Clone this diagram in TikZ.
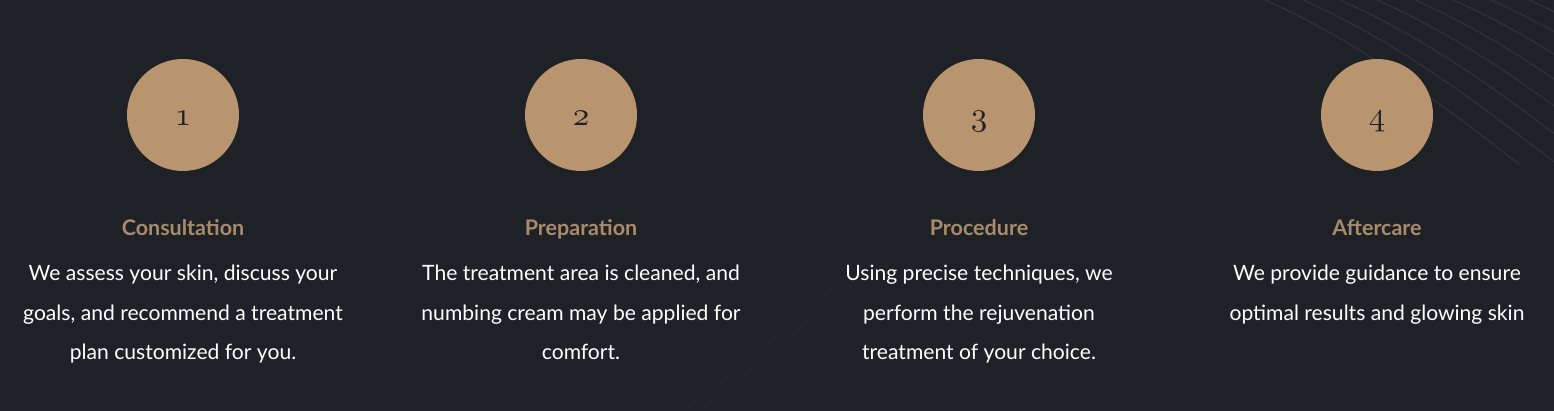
\documentclass[tikz,border=0pt]{standalone}
\usepackage{fontspec}
\usepackage{graphicx}
\setsansfont{Lato}
\definecolor{bg}{HTML}{1E2226}
\definecolor{tan}{HTML}{B8946F}
\definecolor{head}{HTML}{A98A6B}
\newcommand{\stepnum}[1]{\scalebox{3.3}{\usefont{OML}{cmm}{m}{it}#1}}
\begin{document}
\begin{tikzpicture}[x=1pt,y=-1pt,
  stepcircle/.style={circle,fill=tan,minimum size=112pt,inner sep=0pt},
  numtxt/.style={anchor=base,text=bg,inner sep=0pt},
  headtxt/.style={anchor=base,text=head,font=\fontsize{21.5}{24}\sffamily\bfseries},
  bodytxt/.style={anchor=base,text=white,font=\fontsize{21.1}{24}\sffamily},
  deco/.style={white,opacity=0.07,line width=1.3pt}]
\fill[bg] (0,0) rectangle (1554,411);
\useasboundingbox (0,0) rectangle (1554,411);
% faint decorative curves
\foreach \s in {0,38,75,112,150,188,226,264}{
  \draw[deco] (1265+\s,0) .. controls (1355+\s,40) and (1430+\s,95) .. (1520+\s,165);
}
\draw[white,opacity=0.012,line width=14pt] (690,411) .. controls (760,360) and (800,320) .. (850,280);
% steps
\foreach \x/\n/\h [count=\i] in {183/1/Consultation,581/2/Preparation,979/3/Procedure,1377/4/Aftercare}{
  \node[stepcircle] (c\i) at (\x,115) {};
  \node[numtxt] (n\i) at (\x,126) {\stepnum{\n}};
  \node[headtxt] (h\i) at (\x,236) {\h};
}
\node[bodytxt] (b1a) at (183,281) {We assess your skin, discuss your};
\node[bodytxt] (b1b) at (183,320) {goals, and recommend a treatment};
\node[bodytxt] (b1c) at (183,359) {plan customized for you.};
\node[bodytxt] (b2a) at (581,281) {The treatment area is cleaned, and};
\node[bodytxt] (b2b) at (581,320) {numbing cream may be applied for};
\node[bodytxt] (b2c) at (581,359) {comfort.};
\node[bodytxt] (b3a) at (979,281) {Using precise techniques, we};
\node[bodytxt] (b3b) at (979,320) {perform the rejuvenation};
\node[bodytxt] (b3c) at (979,359) {treatment of your choice.};
\node[bodytxt] (b4a) at (1377,281) {We provide guidance to ensure};
\node[bodytxt] (b4b) at (1377,320) {optimal results and glowing skin};
\end{tikzpicture}
\end{document}
